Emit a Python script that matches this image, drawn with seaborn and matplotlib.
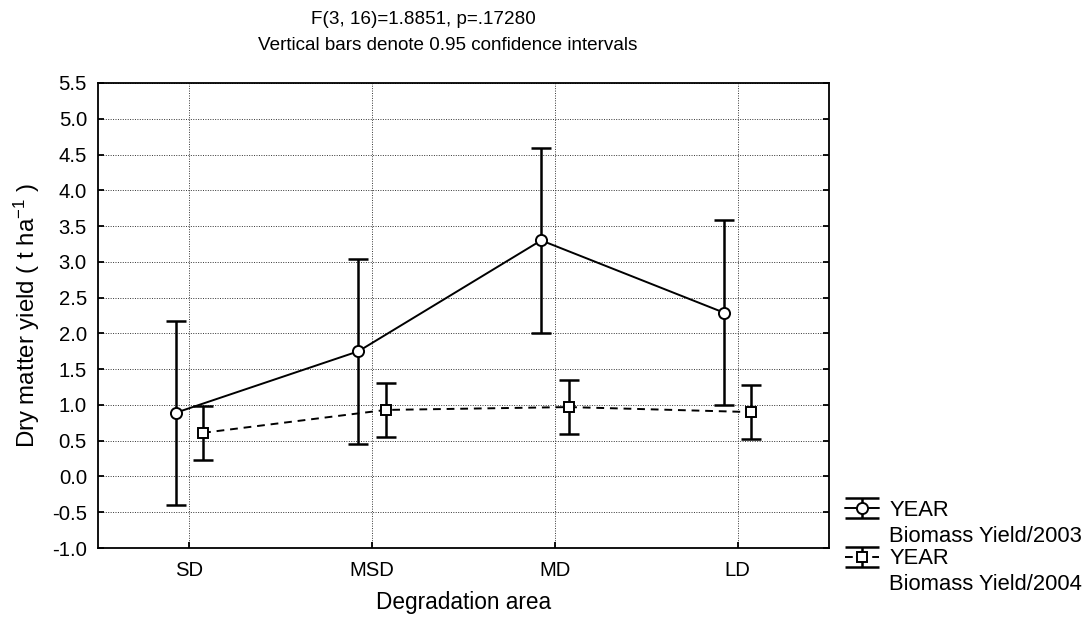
import numpy as np
import pandas as pd
import matplotlib
matplotlib.use("Agg")
import matplotlib.pyplot as plt
import seaborn as sns
from matplotlib.container import ErrorbarContainer
from matplotlib.legend_handler import HandlerErrorbar
from matplotlib.lines import Line2D

# ---- data ----
categories = ["SD", "MSD", "MD", "LD"]
mean_2003 = [0.89, 1.75, 3.30, 2.29]
ci_2003 = [1.29, 1.29, 1.29, 1.29]
mean_2004 = [0.61, 0.93, 0.97, 0.90]
ci_2004 = [0.38, 0.38, 0.38, 0.38]
series_labels = ["YEAR\nBiomass Yield/2003", "YEAR\nBiomass Yield/2004"]
y_ticks = [-1.0, -0.5, 0.0, 0.5, 1.0, 1.5, 2.0, 2.5, 3.0, 3.5, 4.0, 4.5, 5.0, 5.5]

sns.set_theme(style="white")
plt.rcParams["font.family"] = ["Liberation Sans", "DejaVu Sans"]
plt.rcParams["mathtext.fontset"] = "custom"
plt.rcParams["mathtext.rm"] = "Liberation Sans"
plt.rcParams["mathtext.it"] = "Liberation Sans:italic"
plt.rcParams["text.color"] = "black"
plt.rcParams["axes.labelcolor"] = "black"
FS_TITLE = 13.6
FS_TICK = 14.6
FS_XLABEL = 16.3
FS_YLABEL = 17.3
FS_LEG = 15.8

W, H = 1085, 621
fig = plt.figure(figsize=(W / 100, H / 100), dpi=100)
ax = fig.add_axes([98 / W, 1 - 548 / H, 731 / W, 465 / H])

idx = np.arange(len(categories))
offset = 0.075
df = pd.DataFrame({
    "x": np.concatenate([idx - offset, idx + offset]),
    "y": mean_2003 + mean_2004,
    "year": ["2003"] * 4 + ["2004"] * 4,
})

# error bars (0.95 CI)
eb1 = ax.errorbar(idx - offset, mean_2003, yerr=ci_2003, fmt="none", ecolor="black",
                  elinewidth=1.8, capsize=7, capthick=1.8, zorder=2)
eb2 = ax.errorbar(idx + offset, mean_2004, yerr=ci_2004, fmt="none", ecolor="black",
                  elinewidth=1.8, capsize=7, capthick=1.8, zorder=2)

# mean lines with markers
d1 = df[df.year == "2003"]
d2 = df[df.year == "2004"]
sns.lineplot(data=d1, x="x", y="y", ax=ax, color="black", linewidth=1.4, sort=False,
             marker="o", markersize=8, markerfacecolor="white", markeredgecolor="black",
             markeredgewidth=1.4, zorder=3, legend=False)
sns.lineplot(data=d2, x="x", y="y", ax=ax, color="black", linewidth=1.4, sort=False,
             linestyle=(0, (4, 3)), marker="s", markersize=7.5, markerfacecolor="white",
             markeredgecolor="black", markeredgewidth=1.4, zorder=3, legend=False)
line1, line2 = ax.lines[-2], ax.lines[-1]

ax.set_xlim(-0.5, 3.5)
ax.set_ylim(-1.0, 5.5)
ax.set_xticks(idx)
ax.set_xticklabels(categories)
ax.set_yticks(y_ticks)
ax.set_yticklabels([f"{v:.1f}" for v in y_ticks])
ax.grid(True, color="#333333", linestyle=(0, (1, 1.5)), linewidth=0.7)
for s in ax.spines.values():
    s.set_color("black")
    s.set_linewidth(1.3)
ax.tick_params(axis="both", direction="in", length=4, width=1.3, labelsize=FS_TICK,
               colors="black", left=True, bottom=True, right=True, top=False)
ax.tick_params(axis="x", pad=9.5)
ax.tick_params(axis="y", pad=8)
ax.set_xlabel("Degradation area", fontsize=FS_XLABEL, color="black", labelpad=8)
ax.set_ylabel("Dry matter yield ( t ha$^{-1}$ )", fontsize=FS_YLABEL, color="black",
              labelpad=7)

fig.text(423 / W, 1 - 20 / H, "F(3, 16)=1.8851, p=.17280", ha="center", va="center",
         fontsize=FS_TITLE, color="black")
fig.text(448 / W, 1 - 46 / H, "Vertical bars denote 0.95 confidence intervals",
         ha="center", va="center", fontsize=FS_TITLE, color="black")

# legend with errorbar glyphs
def proxy(line, cont):
    cap = Line2D([], [], color="black", marker="_", markersize=25, markeredgewidth=1.8,
                 linestyle="none")
    return ErrorbarContainer((line, (cap, cap), cont[2]), has_xerr=False, has_yerr=True)

handles = [proxy(line1, eb1), proxy(line2, eb2)]
leg = fig.legend(handles, ["YEAR", "YEAR"], loc="upper left",
                 bbox_to_anchor=(845 / W, 1 - 500 / H), frameon=False,
                 fontsize=FS_LEG, labelcolor="black", handlelength=1.57,
                 handletextpad=0.45, labelspacing=1.25, borderpad=0, borderaxespad=0,
                 handler_map={ErrorbarContainer: HandlerErrorbar(yerr_size=0.45)})

# second line of each legend label, placed below the "YEAR" line
fig.canvas.draw()
for t, lab in zip(leg.texts, series_labels):
    bb = t.get_window_extent()
    yc = (bb.y0 + bb.y1) / 2 - 26
    fig.text(bb.x0 / W, yc / H, lab.split("\n")[1], ha="left", va="center",
             fontsize=FS_LEG, color="black")

fig.savefig("out.png", dpi=100)
